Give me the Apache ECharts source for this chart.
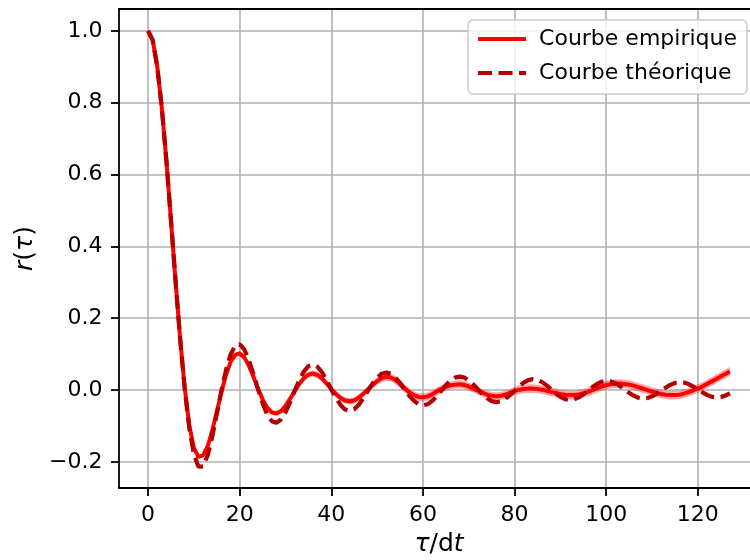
<!DOCTYPE html>
<html><head><meta charset="utf-8">
<script src="https://cdn.jsdelivr.net/npm/echarts@6/dist/echarts.min.js"></script>
<style>html,body{margin:0;padding:0;background:#fff}#c{width:750px;height:560px}</style>
</head><body><div id="c"></div>
<script>
// r(tau), one value per lag tau = 0..127
const empirical = [
 1.000, 0.975, 0.900, 0.785, 0.638, 0.472, 0.303, 0.143, 0.006, -0.099,
 -0.162, -0.186, -0.182, -0.157, -0.113, -0.060, -0.007, 0.042, 0.078, 0.098,
 0.102, 0.091, 0.068, 0.037, 0.004, -0.026, -0.049, -0.062, -0.065, -0.059,
 -0.044, -0.024, -0.003, 0.017, 0.033, 0.043, 0.046, 0.042, 0.032, 0.018,
 0.003, -0.011, -0.022, -0.029, -0.031, -0.029, -0.021, -0.010, 0.002, 0.014,
 0.025, 0.033, 0.037, 0.035, 0.028, 0.017, 0.005, -0.006, -0.014, -0.019,
 -0.020, -0.018, -0.012, -0.004, 0.003, 0.009, 0.013, 0.015, 0.016, 0.014,
 0.010, 0.004, -0.002, -0.008, -0.013, -0.016, -0.017, -0.016, -0.013, -0.008,
 -0.003, 0.001, 0.003, 0.004, 0.004, 0.003, 0.001, -0.002, -0.005, -0.008,
 -0.011, -0.013, -0.014, -0.014, -0.012, -0.009, -0.005, 0.000, 0.005, 0.010,
 0.014, 0.016, 0.018, 0.018, 0.017, 0.015, 0.012, 0.008, 0.004, 0.000,
 -0.004, -0.008, -0.011, -0.013, -0.014, -0.014, -0.013, -0.010, -0.006, -0.001,
 0.004, 0.010, 0.017, 0.024, 0.031, 0.038, 0.045, 0.052
];
const theoretical = [
 1.0000, 0.9745, 0.9003, 0.7850, 0.6378, 0.4720, 0.3020, 0.1415, 0.0018, -0.1066,
 -0.1789, -0.2136, -0.2126, -0.1820, -0.1303, -0.0669, -0.0018, 0.0556, 0.0987, 0.1234,
 0.1275, 0.1130, 0.0834, 0.0443, 0.0018, -0.0372, -0.0679, -0.0866, -0.0911, -0.0820,
 -0.0616, -0.0333, -0.0018, 0.0277, 0.0516, 0.0667, 0.0708, 0.0644, 0.0489, 0.0268,
 0.0018, -0.0219, -0.0415, -0.0541, -0.0579, -0.0531, -0.0407, -0.0225, -0.0018, 0.0181,
 0.0346, 0.0455, 0.0490, 0.0452, 0.0348, 0.0195, 0.0018, -0.0153, -0.0296, -0.0393,
 -0.0424, -0.0393, -0.0305, -0.0173, -0.0018, 0.0134, 0.0260, 0.0345, 0.0375, 0.0348,
 0.0270, 0.0154, 0.0018, -0.0117, -0.0230, -0.0307, -0.0335, -0.0312, -0.0244, -0.0140,
 -0.0018, 0.0104, 0.0207, 0.0277, 0.0303, 0.0284, 0.0222, 0.0129, 0.0018, -0.0093,
 -0.0187, -0.0252, -0.0277, -0.0260, -0.0204, -0.0119, -0.0018, 0.0084, 0.0171, 0.0231,
 0.0254, 0.0240, 0.0189, 0.0111, 0.0018, -0.0076, -0.0157, -0.0213, -0.0235, -0.0222,
 -0.0176, -0.0104, -0.0018, 0.0070, 0.0145, 0.0197, 0.0219, 0.0208, 0.0165, 0.0098,
 0.0018, -0.0064, -0.0135, -0.0184, -0.0205, -0.0195, -0.0155, -0.0093
];
// half width of the shaded band around the empirical curve
const bandHalfWidth = [
 0.003,0.003,0.003,0.003,0.003,0.003,0.003,0.003,0.003,0.003,
 0.005,0.005,0.005,0.005,0.005,0.005,0.005,0.005,0.005,0.005,
 0.007,0.007,0.007,0.007,0.007,0.007,0.007,0.007,0.007,0.007,
 0.009,0.009,0.009,0.009,0.009,0.009,0.009,0.009,0.009,0.009,
 0.009,0.009,0.009,0.009,0.009,0.009,0.009,0.009,0.009,0.009,
 0.011,0.011,0.011,0.011,0.011,0.011,0.011,0.011,0.011,0.011,
 0.011,0.011,0.011,0.011,0.011,0.011,0.011,0.011,0.011,0.011,
 0.011,0.011,0.011,0.011,0.011,0.011,0.011,0.011,0.011,0.011,
 0.012,0.012,0.012,0.012,0.012,0.012,0.012,0.012,0.012,0.012,
 0.012,0.012,0.012,0.012,0.012,0.012,0.012,0.012,0.012,0.012,
 0.012,0.012,0.012,0.012,0.012,0.012,0.012,0.012,0.012,0.012,
 0.012,0.012,0.012,0.012,0.012,0.012,0.012,0.012,0.012,0.012,
 0.012,0.012,0.012,0.012,0.012,0.012,0.012,0.012
];
const xTicks = [0, 20, 40, 60, 80, 100, 120];
const yTicks = [-0.2, 0.0, 0.2, 0.4, 0.6, 0.8, 1.0];
const seriesNames = ['Courbe empirique', 'Courbe théorique'];

const empData = empirical.map((v, i) => [i, v]);
const theoData = theoretical.map((v, i) => [i, v]);
const upper = empirical.map((v, i) => [i, v + bandHalfWidth[i]]);
const lower = empirical.map((v, i) => [i, v - bandHalfWidth[i]]);

const FONT = 'DejaVu Sans';
const fmtY = v => { const s = Math.abs(v).toFixed(1); return v < -1e-9 ? '\u2212' + s : s; };
const AX = '#000';
const EMP_COLOR = '#ff0000', THEO_COLOR = '#b40000';
const EMP_LINE = {color: EMP_COLOR, width: 4};
const THEO_LINE = {color: THEO_COLOR, width: 4.2, type: [14, 6.5], cap: 'butt'};
const chart = echarts.init(document.getElementById('c'), null, {renderer: 'canvas'});

const nameStyle = (sz) => ({
  fontSize: sz, fontFamily: FONT, color: '#000',
  rich: {
    i: {fontStyle: 'italic', fontSize: sz, fontFamily: FONT, color: '#000'},
    n: {fontSize: sz, fontFamily: FONT, color: '#000'}
  }
});

chart.setOption({
  animation: false,
  backgroundColor: '#fff',
  grid: {left: 119, right: -9, top: 9, bottom: 72, containLabel: false, outerBoundsMode: 'none'},
  xAxis: [{
    type: 'value', min: -6.35, max: 133.35,
    axisLine: {show: true, onZero: false, lineStyle: {color: AX, width: 1.8}},
    axisTick: {show: true, length: 8, customValues: xTicks, lineStyle: {color: AX, width: 1.8}},
    axisLabel: {customValues: xTicks, margin: 16, fontSize: 22, fontFamily: FONT, color: '#000'},
    splitLine: {show: true, lineStyle: {color: '#b0b0b0', width: 1.6}},
    name: '{i|\u03c4}{n|/d}{i|t}', nameLocation: 'middle', nameGap: 44,
    nameTextStyle: nameStyle(25)
  }, {
    type: 'value', position: 'top', min: -6.35, max: 133.35,
    axisLine: {show: true, onZero: false, lineStyle: {color: AX, width: 1.8}},
    axisTick: {show: false}, axisLabel: {show: false}, splitLine: {show: false}
  }],
  yAxis: [{
    type: 'value', min: -0.2727, max: 1.061,
    axisLine: {show: true, onZero: false, lineStyle: {color: AX, width: 1.8}},
    axisTick: {show: true, length: 8, customValues: yTicks, lineStyle: {color: AX, width: 1.8}},
    axisLabel: {customValues: yTicks, formatter: fmtY, margin: 16.5, fontSize: 22, fontFamily: FONT, color: '#000'},
    splitLine: {show: true, lineStyle: {color: '#b0b0b0', width: 1.6}},
    name: '{i|r}{n|(}{i|\u03c4}{n|)}', nameLocation: 'middle', nameGap: 78, nameRotate: 90,
    nameTextStyle: nameStyle(25)
  }],
  legend: {
    data: seriesNames,
    orient: 'vertical', right: 3, top: 20,
    itemWidth: 48, itemHeight: 14, itemGap: 12,
    padding: [8, 10, 10, 8],
    itemStyle: {color: 'rgba(0,0,0,0)', borderColor: 'rgba(0,0,0,0)', borderWidth: 0},
    lineStyle: {width: 4},
    backgroundColor: 'rgba(255,255,255,0.8)', borderColor: '#cccccc', borderWidth: 1.5, borderRadius: 5,
    textStyle: {fontSize: 22, fontFamily: FONT, color: '#000', padding: [0, 0, 0, 8]}
  },
  series: [{
    type: 'custom', name: 'band', silent: true, z: 1,
    data: [[0, 0]],
    renderItem: (params, api) => {
      const pts = upper.map(p => api.coord(p)).concat(lower.slice().reverse().map(p => api.coord(p)));
      return {type: 'polygon', shape: {points: pts}, style: {fill: 'rgba(255,0,0,0.35)'}};
    }
  }, {
    type: 'line', name: seriesNames[0], data: empData, symbol: 'none', showSymbol: false, z: 2,
    lineStyle: EMP_LINE, itemStyle: {color: EMP_COLOR}
  }, {
    type: 'line', name: seriesNames[1], data: theoData, symbol: 'none', showSymbol: false, z: 3,
    lineStyle: THEO_LINE, itemStyle: {color: THEO_COLOR}
  }]
});
</script></body></html>
